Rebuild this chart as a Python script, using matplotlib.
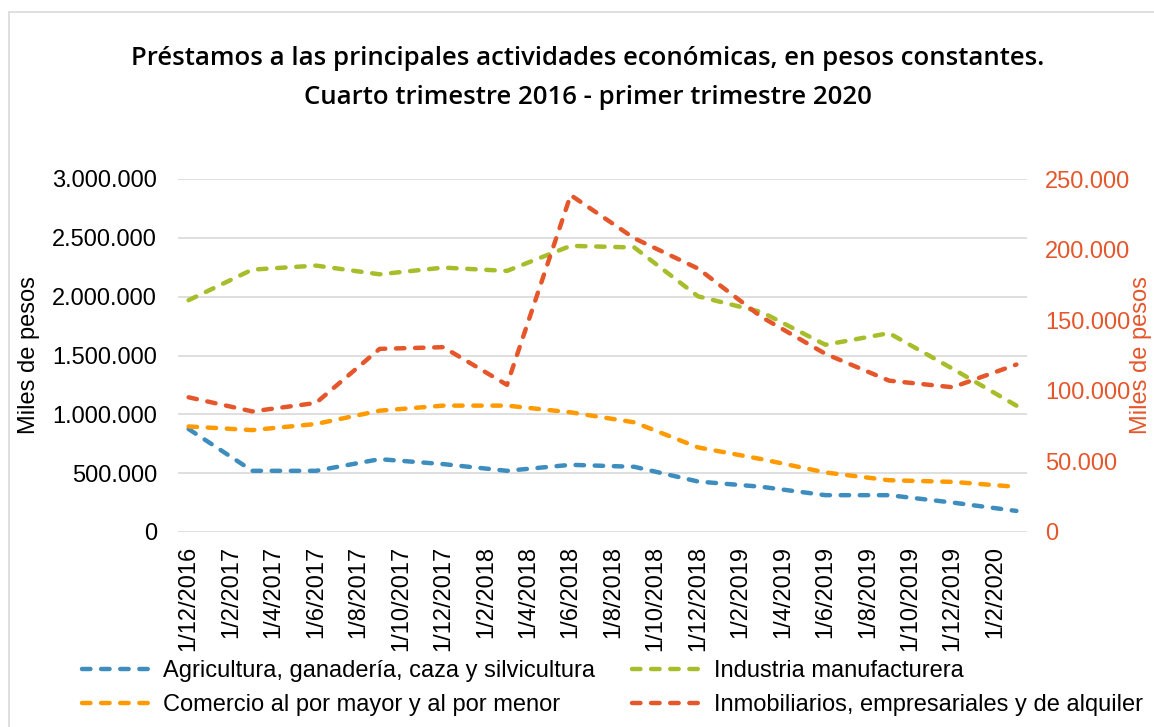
import matplotlib
matplotlib.use("Agg")
import matplotlib.pyplot as plt
from matplotlib.patches import Rectangle
from matplotlib.ticker import FuncFormatter
import pandas as pd

# ---------------- data ----------------
dates = ["2016-12-01", "2017-03-01", "2017-06-01", "2017-09-01", "2017-12-01",
         "2018-03-01", "2018-06-01", "2018-09-01", "2018-12-01", "2019-03-01",
         "2019-06-01", "2019-09-01", "2019-12-01", "2020-03-01"]
agricultura = [875000, 520000, 520000, 619000, 577000, 520000, 571000,
               554000, 429000, 384000, 313000, 313000, 250000, 179000]
industria = [1970000, 2230000, 2264000, 2190000, 2247000, 2219000, 2432000,
             2418000, 2003000, 1869000, 1591000, 1690000, 1387000, 1074000]
comercio = [897000, 866000, 918000, 1031000, 1074000, 1074000, 1017000,
            932000, 719000, 619000, 506000, 440000, 426000, 384000]
inmobiliarios = [95400, 85400, 91400, 129700, 130900, 104200, 238600,
                 208000, 186600, 152200, 126200, 107200, 102500, 118600]
tick_labels = ["1/12/2016", "1/2/2017", "1/4/2017", "1/6/2017", "1/8/2017",
               "1/10/2017", "1/12/2017", "1/2/2018", "1/4/2018", "1/6/2018",
               "1/8/2018", "1/10/2018", "1/12/2018", "1/2/2019", "1/4/2019",
               "1/6/2019", "1/8/2019", "1/10/2019", "1/12/2019", "1/2/2020"]
labels = ["Agricultura, ganadería, caza y silvicultura",
          "Industria manufacturera",
          "Comercio al por mayor y al por menor",
          "Inmobiliarios, empresariales y de alquiler"]
title = ("Préstamos a las principales actividades económicas, en pesos constantes.\n"
         "Cuarto trimestre 2016 - primer trimestre 2020")

# ---------------- styling ----------------
C_BLUE = "#3E8DBF"
C_GREEN = "#A8BD2A"
C_ORANGE = "#FF9A00"
C_RED = "#E5562B"
GRID = "#D9D9D9"
FS = 17

plt.rcParams["font.family"] = ["Liberation Sans", "DejaVu Sans"]

def month_index(d):
    t = pd.Timestamp(d)
    base = pd.Timestamp(dates[0])
    return (t.year - base.year) * 12 + (t.month - base.month)

x = [month_index(d) for d in dates]
tick_dates = []
for lab in tick_labels:
    dd, mm, yy = lab.split("/")
    tick_dates.append(f"{yy}-{int(mm):02d}-{int(dd):02d}")
xt = [month_index(d) for d in tick_dates]

W, H = 1154, 727
fig = plt.figure(figsize=(W / 100, H / 100), dpi=100)
fig.patch.set_facecolor("white")

L, R, T, B = 178, 1027, 179, 532
ax = fig.add_axes([L / W, 1 - B / H, (R - L) / W, (B - T) / H])
ax2 = ax.twinx()

lw = 3.2
dash = (1.9, 2.4)

def draw(axis, y, c, lab):
    ln, = axis.plot(x, y, color=c, lw=lw, linestyle=(0, dash),
                    dash_capstyle="round", solid_capstyle="round", label=lab,
                    zorder=3)
    return ln

h_agr = draw(ax, agricultura, C_BLUE, labels[0])
h_ind = draw(ax, industria, C_GREEN, labels[1])
h_com = draw(ax, comercio, C_ORANGE, labels[2])
h_inm = draw(ax2, inmobiliarios, C_RED, labels[3])

ax.set_xlim(-0.5, 39.5)
ax.set_ylim(0, 3000000)
ax2.set_ylim(0, 250000)
ax.set_yticks(range(0, 3000001, 500000))
ax2.set_yticks(range(0, 250001, 50000))

fmt = FuncFormatter(lambda v, p: f"{int(v):,}".replace(",", "."))
ax.yaxis.set_major_formatter(fmt)
ax2.yaxis.set_major_formatter(fmt)

ax.set_xticks(xt)
ax.set_xticklabels(tick_labels, rotation=90)

ax.grid(axis="y", color=GRID, lw=1.2)
ax.set_axisbelow(True)
for a in (ax, ax2):
    for s in a.spines.values():
        s.set_visible(False)

ax.tick_params(axis="y", length=0, pad=15, labelsize=FS, colors="black")
ax.tick_params(axis="x", length=0, pad=10, labelsize=FS, colors="black")
ax2.tick_params(axis="y", length=0, pad=13, labelsize=FS, labelcolor=C_RED)

# axis titles
fig.text(18 / W, 1 - 355 / H, "Miles de pesos", rotation=90, ha="left",
         va="center", fontsize=FS, color="black")
fig.text(1130 / W, 1 - 355 / H, "Miles de pesos", rotation=90, ha="left",
         va="center", fontsize=FS, color=C_RED)

# title
fig.text(588 / W, 1 - 78 / H, title, ha="center", va="center",
         fontsize=18.5, fontfamily=["Open Sans", "DejaVu Sans"],
         fontweight="semibold", linespacing=1.75, color="black")

# legend
fig.legend([h_agr, h_com, h_ind, h_inm],
           [labels[0], labels[2], labels[1], labels[3]],
           ncol=2, loc="upper left", bbox_to_anchor=(82 / W, 1 - 660 / H),
           frameon=False, fontsize=FS, handlelength=3.0, handletextpad=0.45,
           columnspacing=1.55, labelspacing=0.52, borderpad=0, borderaxespad=0)

# chart-area border
fig.add_artist(Rectangle((9 / W, -0.1), 1.2, 1.1 - 12 / H,
                         transform=fig.transFigure, fill=False,
                         edgecolor=GRID, lw=1.2, clip_on=False))

fig.savefig("out.png", dpi=100)
